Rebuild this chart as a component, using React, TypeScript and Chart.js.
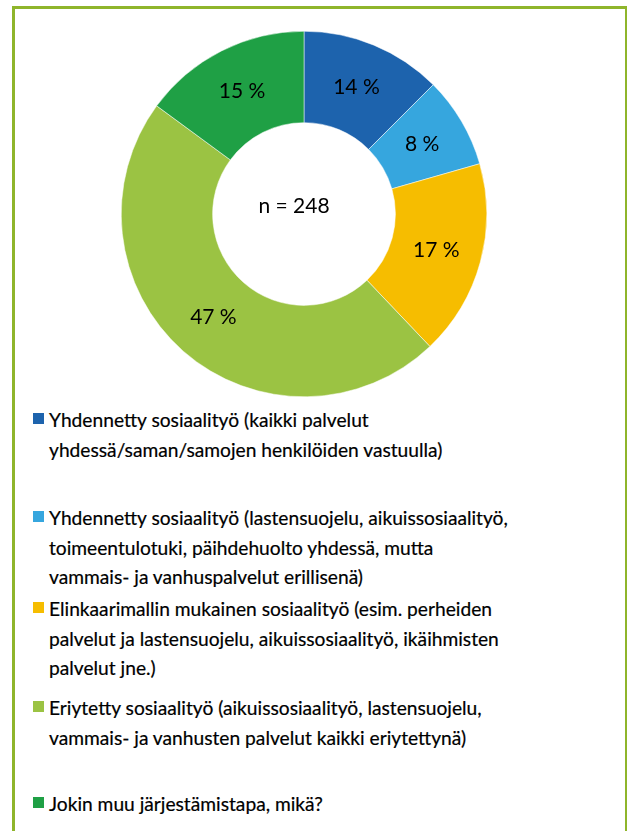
import React, { useEffect, useRef } from "react";
import { Chart, registerables } from "chart.js";

Chart.register(...registerables);

const categories: string[][] = [
  ["Yhdennetty sosiaalityö (kaikki palvelut", "yhdessä/saman/samojen henkilöiden vastuulla)"],
  ["Yhdennetty sosiaalityö (lastensuojelu, aikuissosiaalityö,", "toimeentulotuki, päihdehuolto yhdessä, mutta", "vammais- ja vanhuspalvelut erillisenä)"],
  ["Elinkaarimallin mukainen sosiaalityö (esim. perheiden", "palvelut ja lastensuojelu, aikuissosiaalityö, ikäihmisten", "palvelut jne.)"],
  ["Eriytetty sosiaalityö (aikuissosiaalityö, lastensuojelu,", "vammais- ja vanhusten palvelut kaikki eriytettynä)"],
  ["Jokin muu järjestämistapa, mikä?"],
];
const values: number[] = [31, 20, 43, 117, 37];
const percentLabels: string[] = ["14 %", "8 %", "17 %", "47 %", "15 %"];
const colors: string[] = ["#1D63AD", "#36A6DE", "#F6BD00", "#9BC343", "#1FA045"];
const centerText = "n = 248";
const legendTops: number[] = [405, 503, 594, 693, 789];

const FONT = "Lato, 'Open Sans', sans-serif";

const labelPlugin = {
  id: "sliceLabels",
  afterDatasetsDraw(chart: any) {
    const ctx = chart.ctx;
    const meta = chart.getDatasetMeta(0);
    ctx.save();
    ctx.font = `21px ${FONT}`;
    ctx.fillStyle = "#000";
    ctx.textAlign = "center";
    ctx.textBaseline = "middle";
    meta.data.forEach((arc: any, i: number) => {
      const p = arc.tooltipPosition(false);
      ctx.fillText(percentLabels[i], p.x, p.y);
    });
    const ca = chart.chartArea;
    const cx = (ca.left + ca.right) / 2;
    const cy = (ca.top + ca.bottom) / 2;
    ctx.fillText(centerText, cx - 10, cy - 8);
    ctx.restore();
  },
};

export default function App() {
  const ref = useRef<HTMLCanvasElement | null>(null);
  useEffect(() => {
    if (!ref.current) return;
    const chart = new Chart(ref.current, {
      type: "doughnut",
      data: {
        labels: categories,
        datasets: [
          {
            data: values,
            backgroundColor: colors,
            borderColor: "#ffffff",
            borderWidth: 0.5,
          },
        ],
      },
      options: {
        responsive: false,
        animation: false,
        cutout: "50%",
        layout: { padding: 0 },
        plugins: {
          legend: { display: false },
          tooltip: { enabled: false },
        },
      },
      plugins: [labelPlugin],
    });
    return () => chart.destroy();
  }, []);

  return (
    <div
      style={{
        position: "absolute",
        left: 0,
        top: 0,
        width: 627,
        height: 831,
        overflow: "hidden",
        background: "#fff",
        fontFamily: FONT,
      }}
    >
      <div
        style={{
          position: "absolute",
          left: 12,
          top: 6,
          width: 615,
          height: 900,
          boxSizing: "border-box",
          borderLeft: "3px solid #8FB52B",
          borderTop: "3px solid #8FB52B",
          borderRight: "2px solid #8FB52B",
        }}
      />
      <canvas
        ref={ref}
        width={366}
        height={366}
        style={{ position: "absolute", left: 121, top: 31, width: 366, height: 366 }}
      />
      {categories.map((lines, i) => (
        <div
          key={i}
          style={{
            position: "absolute",
            left: 33,
            top: legendTops[i],
            width: 590,
            fontSize: 19.2,
            lineHeight: "29.5px",
            color: "#000",
            WebkitTextStroke: "0.2px #000",
          }}
        >
          <span
            style={{
              position: "absolute",
              left: 0,
              top: 8,
              width: 11,
              height: 11,
              background: colors[i],
            }}
          />
          <div style={{ marginLeft: 16, whiteSpace: "nowrap" }}>
            {lines.map((l, j) => (
              <div key={j}>{l}</div>
            ))}
          </div>
        </div>
      ))}
    </div>
  );
}
